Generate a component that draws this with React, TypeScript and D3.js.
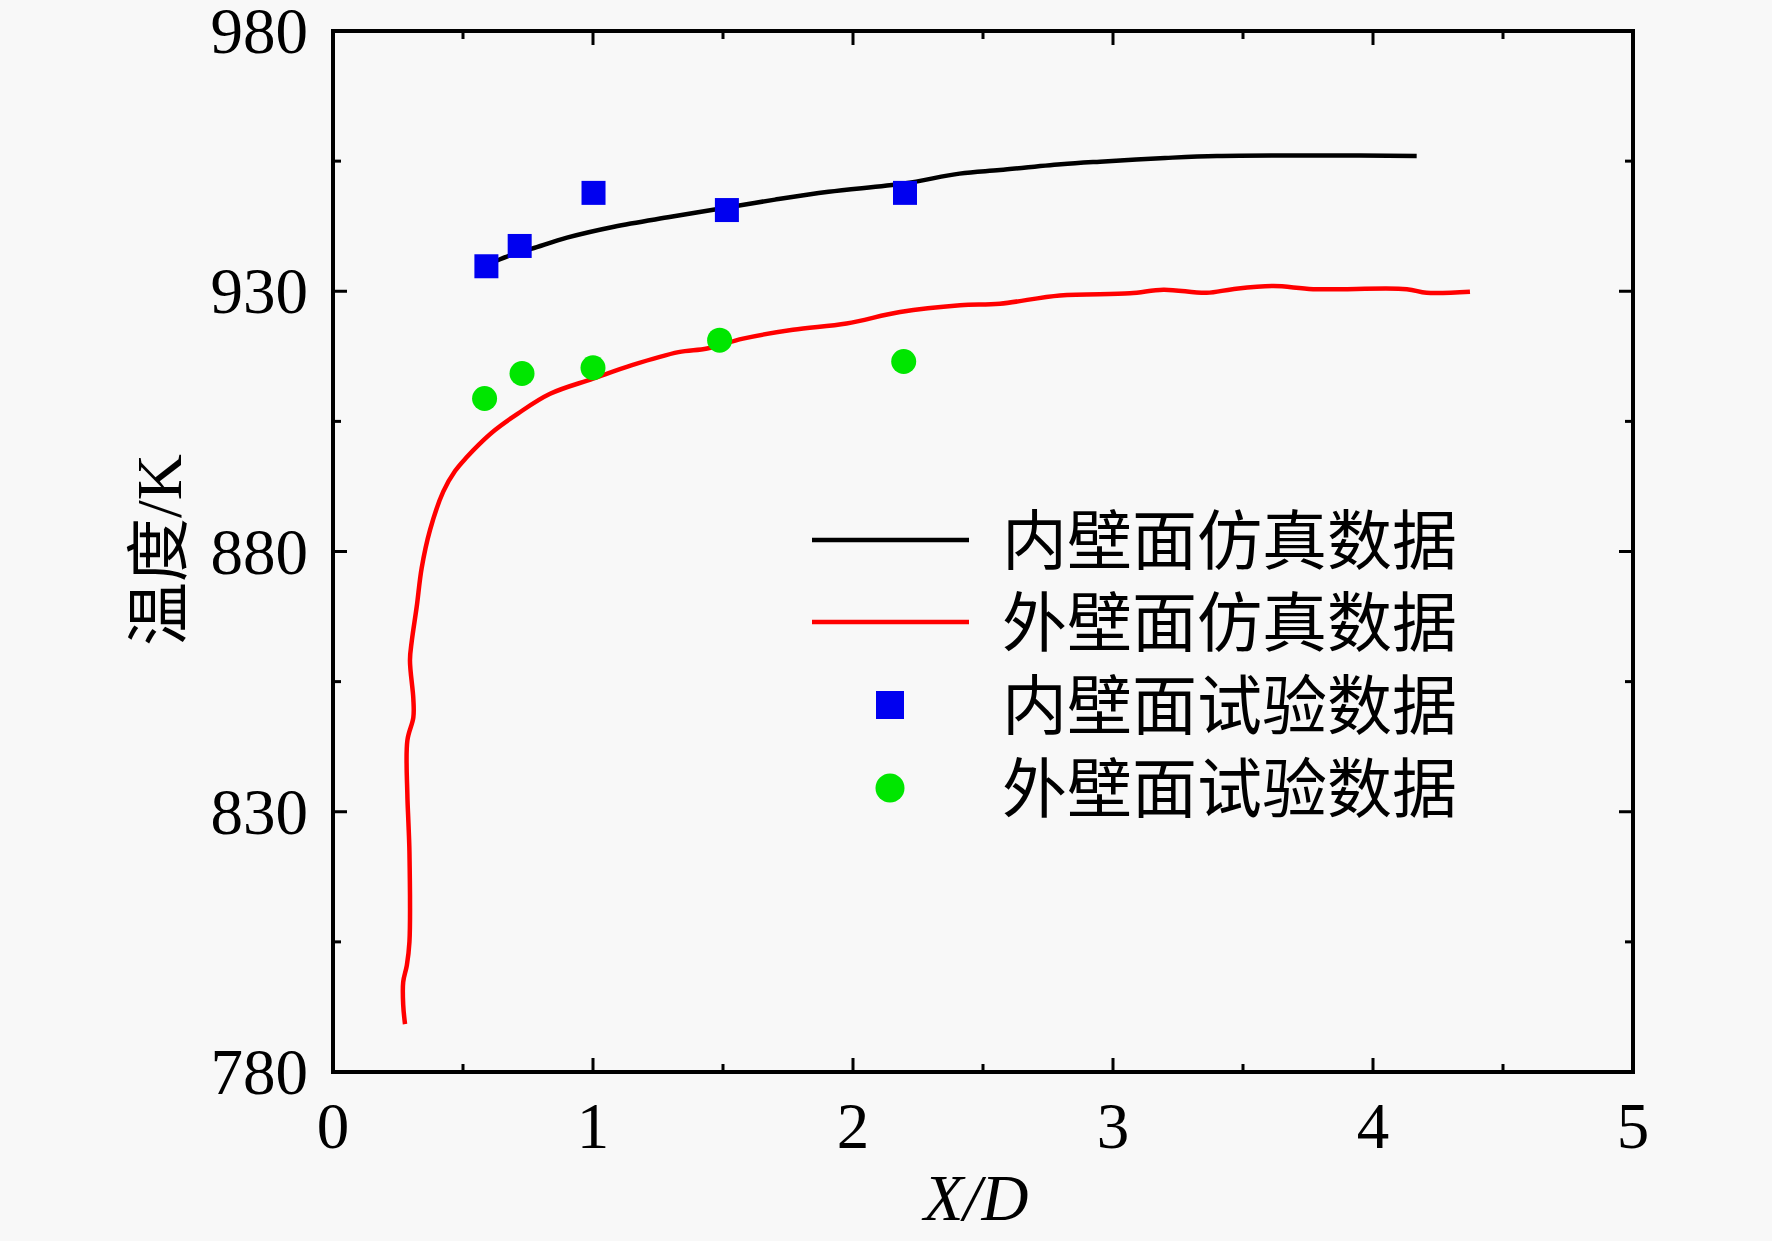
import React, { useEffect } from "react";
import * as d3 from "d3";

// ---- data ----
const innerSimX = [0.6, 0.72, 0.765, 0.9, 1.081, 1.3, 1.492, 1.7, 1.906, 2.196, 2.41, 2.565, 2.8, 2.95, 3.2, 3.4, 3.8, 4.168];
const innerSimY = [935.3, 937.6, 938.2, 940.3, 942.4, 944.3, 945.9, 947.6, 949.1, 950.7, 952.6, 953.3, 954.4, 954.9, 955.6, 956.0, 956.1, 956.0];

const outerSimX = [0.277, 0.27, 0.27, 0.284, 0.294, 0.294, 0.29, 0.286, 0.286, 0.309, 0.309, 0.296, 0.303, 0.322, 0.341, 0.373, 0.424, 0.47, 0.514, 0.56, 0.622, 0.711, 0.835, 1.0, 1.15, 1.329, 1.439, 1.577, 1.769, 1.975, 2.181, 2.412, 2.565, 2.796, 3.065, 3.194, 3.36, 3.46, 3.617, 3.77, 4.13, 4.206, 4.373];
const outerSimY = [789.2, 792.9, 797.3, 800.5, 805, 822.3, 828, 833.3, 843.7, 848.1, 851.7, 859.1, 862.8, 869.4, 876.8, 884.1, 891.5, 895.5, 898.1, 900.5, 903.3, 906.5, 910.3, 913.2, 915.8, 918.3, 919.0, 920.9, 922.6, 923.8, 926.0, 927.3, 927.6, 929.2, 929.6, 930.3, 929.7, 930.4, 931.0, 930.4, 930.4, 929.7, 929.9];

const innerExpX = [0.59, 0.718, 1.002, 1.515, 2.2];
const innerExpY = [934.8, 938.7, 948.9, 945.6, 948.9];

const outerExpX = [0.583, 0.727, 1.0, 1.487, 2.195];
const outerExpY = [909.4, 914.2, 915.3, 920.6, 916.5];

const xMajorTicks = [0, 1, 2, 3, 4, 5];
const xMinorTicks = [0.5, 1.5, 2.5, 3.5, 4.5];
const yMajorTicks = [780, 830, 880, 930, 980];
const yMinorTicks = [805, 855, 905, 955];

const legendLabels = ["内壁面仿真数据", "外壁面仿真数据", "内壁面试验数据", "外壁面试验数据"];
const xLabel = "X/D";
const yLabel = "温度/K";

// ---- layout ----
const W = 1772;
const H = 1241;
const L = 333, R = 1633, T = 31, B = 1072;
const latin = "'Liberation Serif', 'Times New Roman', serif";
const cjk = "'Liberation Serif', 'Noto Sans CJK SC', serif";

export default function App() {
  useEffect(() => {
    document.body.style.margin = "0";
    document.body.style.background = "#f8f8f8";
  }, []);

  const x = d3.scaleLinear().domain([0, 5]).range([L, R]);
  const y = d3.scaleLinear().domain([780, 980]).range([B, T]);

  const innerPts = innerSimX.map((v, i) => [v, innerSimY[i]] as [number, number]);
  const outerPts = outerSimX.map((v, i) => [v, outerSimY[i]] as [number, number]);
  const line = d3
    .line<[number, number]>()
    .x((d) => x(d[0]))
    .y((d) => y(d[1]))
    .curve(d3.curveCatmullRom.alpha(0.5));

  const majorLen = 14;
  const minorLen = 8;
  const sq = 24;
  const cr = 12.5;

  const legendRows = [540, 622, 705, 788];

  return (
    <svg width={W} height={H} style={{ display: "block", position: "absolute", left: 0, top: 0 }}>
      <rect x={0} y={0} width={W} height={H} fill="#f8f8f8" />

      {/* data lines */}
      <path d={line(outerPts) || ""} fill="none" stroke="#ff0000" strokeWidth={4.5} />
      <path d={line(innerPts) || ""} fill="none" stroke="#000" strokeWidth={4.5} />

      {/* experiment markers */}
      {innerExpX.map((v, i) => (
        <rect key={"s" + i} x={x(v) - sq / 2} y={y(innerExpY[i]) - sq / 2} width={sq} height={sq} fill="#0000f0" />
      ))}
      {outerExpX.map((v, i) => (
        <circle key={"c" + i} cx={x(v)} cy={y(outerExpY[i])} r={cr} fill="#00e600" />
      ))}

      {/* ticks: all four sides, inward */}
      <g stroke="#000" strokeWidth={3}>
        {xMajorTicks.map((t) => (
          <g key={"xm" + t}>
            <line x1={x(t)} x2={x(t)} y1={B} y2={B - majorLen} />
            <line x1={x(t)} x2={x(t)} y1={T} y2={T + majorLen} />
          </g>
        ))}
        {xMinorTicks.map((t) => (
          <g key={"xn" + t}>
            <line x1={x(t)} x2={x(t)} y1={B} y2={B - minorLen} />
            <line x1={x(t)} x2={x(t)} y1={T} y2={T + minorLen} />
          </g>
        ))}
        {yMajorTicks.map((t) => (
          <g key={"ym" + t}>
            <line x1={L} x2={L + majorLen} y1={y(t)} y2={y(t)} />
            <line x1={R} x2={R - majorLen} y1={y(t)} y2={y(t)} />
          </g>
        ))}
        {yMinorTicks.map((t) => (
          <g key={"yn" + t}>
            <line x1={L} x2={L + minorLen} y1={y(t)} y2={y(t)} />
            <line x1={R} x2={R - minorLen} y1={y(t)} y2={y(t)} />
          </g>
        ))}
      </g>

      {/* frame */}
      <rect x={L} y={T} width={R - L} height={B - T} fill="none" stroke="#000" strokeWidth={4} />

      {/* tick labels */}
      <g fontFamily={latin} fontSize={65} fill="#000">
        {xMajorTicks.map((t) => (
          <text key={"xl" + t} x={x(t)} y={1148} textAnchor="middle">
            {t}
          </text>
        ))}
        {yMajorTicks.map((t) => (
          <text key={"yl" + t} x={308} y={y(t) + 22} textAnchor="end">
            {t}
          </text>
        ))}
      </g>

      {/* axis titles */}
      <text x={976} y={1220} textAnchor="middle" fontFamily={latin} fontSize={65} fontStyle="italic">
        {xLabel}
      </text>
      <text
        transform={`translate(181, 550) rotate(-90)`}
        textAnchor="middle"
        fontFamily={cjk}
        fontSize={64}
      >
        {yLabel}
      </text>

      {/* legend */}
      <line x1={812} x2={969} y1={legendRows[0]} y2={legendRows[0]} stroke="#000" strokeWidth={4.5} />
      <line x1={812} x2={969} y1={legendRows[1]} y2={legendRows[1]} stroke="#ff0000" strokeWidth={4.5} />
      <rect x={890 - 14} y={legendRows[2] - 14} width={28} height={28} fill="#0000f0" />
      <circle cx={890} cy={legendRows[3]} r={14.5} fill="#00e600" />
      {legendLabels.map((s, i) => (
        <text
          key={"lg" + i}
          x={1002}
          y={legendRows[i] + 2}
          dominantBaseline="central"
          fontFamily={cjk}
          fontSize={65}
          fill="#000"
        >
          {s}
        </text>
      ))}
    </svg>
  );
}
